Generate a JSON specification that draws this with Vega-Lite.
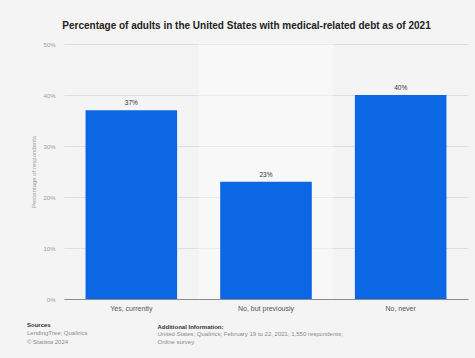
{
  "$schema": "https://vega.github.io/schema/vega-lite/v6.json",
  "width": 404,
  "height": 255,
  "autosize": {"type": "none"},
  "padding": {"left": 64, "top": 44, "right": 7, "bottom": 59},
  "background": "#f4f4f4",
  "config": {"font": "Liberation Sans", "view": {"stroke": null}},
  "title": {
    "text": "Sources",
    "subtitle": ["LendingTree; Qualtrics", "© Statista 2024"],
    "orient": "bottom",
    "anchor": "start",
    "frame": "group",
    "dx": -37,
    "dy": -23,
    "offset": 0,
    "fontSize": 6,
    "fontWeight": "bold",
    "color": "#333333",
    "subtitleFontSize": 6,
    "subtitleColor": "#8a8a8a",
    "subtitlePadding": 2.5,
    "subtitleLineHeight": 8.5
  },
  "data": {
    "values": [
      {"answer": "Yes, currently", "share": 0.37},
      {"answer": "No, but previously", "share": 0.23},
      {"answer": "No, never", "share": 0.40}
    ]
  },
  "resolve": {"axis": {"x": "independent", "y": "independent"}},
  "layer": [
    {
      "transform": [{"filter": "datum.answer === 'No, but previously'"}],
      "mark": {"type": "bar", "width": {"band": 1}, "color": "#ffffff", "opacity": 0.4},
      "encoding": {
        "x": {"field": "answer", "type": "nominal", "axis": null,
              "scale": {"domain": ["Yes, currently", "No, but previously", "No, never"], "paddingInner": 0, "paddingOuter": 0}},
        "y": {"datum": 0.5, "type": "quantitative", "axis": null},
        "y2": {"datum": 0}
      }
    },
    {
      "mark": {"type": "bar", "width": {"band": 0.68}, "color": "#0b67e3"},
      "encoding": {
        "x": {"field": "answer", "type": "nominal",
              "scale": {"domain": ["Yes, currently", "No, but previously", "No, never"], "paddingInner": 0, "paddingOuter": 0},
              "axis": {"orient": "bottom", "labelAngle": 0, "labelFontSize": 7, "labelColor": "#555555", "labelPadding": 5,
                       "ticks": false, "domain": true, "domainColor": "#8c8c8c", "domainWidth": 1, "grid": false,
                       "title": "Additional Information:", "titleFontSize": 6, "titleFontWeight": "bold", "titleColor": "#333333",
                       "titleAlign": "left", "titleAnchor": "start", "titleBaseline": "top", "titleX": 93, "titleY": 24}},
        "y": {"field": "share", "type": "quantitative",
              "scale": {"domain": [0, 0.5], "nice": false},
              "axis": {"orient": "left", "values": [0, 0.1, 0.2, 0.3, 0.4, 0.5], "format": ".0%", "labelFontSize": 6, "labelColor": "#9a9a9a",
                       "labelPadding": 9, "ticks": false, "domain": false, "grid": true, "gridColor": "#dedede", "gridWidth": 1,
                       "title": "Percentage of respondents", "titleFontSize": 6, "titleFontWeight": "normal", "titleColor": "#9a9a9a", "titlePadding": 6}}
      }
    },
    {
      "mark": {"type": "text", "dy": -7, "fontSize": 6.5, "color": "#333333"},
      "encoding": {
        "x": {"field": "answer", "type": "nominal",
              "scale": {"domain": ["Yes, currently", "No, but previously", "No, never"], "paddingInner": 0, "paddingOuter": 0},
              "axis": {"orient": "top", "labels": false, "ticks": false, "domain": false, "grid": false,
                       "title": "Percentage of adults in the United States with medical-related debt as of 2021",
                       "titleFontSize": 10, "titleFontWeight": "bold", "titleColor": "#222222",
                       "titleAlign": "center", "titleBaseline": "middle", "titleX": 182, "titleY": -19}},
        "y": {"field": "share", "type": "quantitative",
              "axis": {"orient": "right", "labels": false, "ticks": false, "domain": false, "grid": false,
                       "title": ["United States; Qualtrics; February 19 to 22, 2021; 1,550 respondents;", "Online survey"],
                       "titleAngle": 0, "titleAlign": "left", "titleBaseline": "top", "titleX": -311, "titleY": 286,
                       "titleFontSize": 6, "titleFontWeight": "normal", "titleColor": "#8a8a8a", "titleLineHeight": 8.5}},
        "text": {"field": "share", "type": "quantitative", "format": ".0%"}
      }
    }
  ]
}
